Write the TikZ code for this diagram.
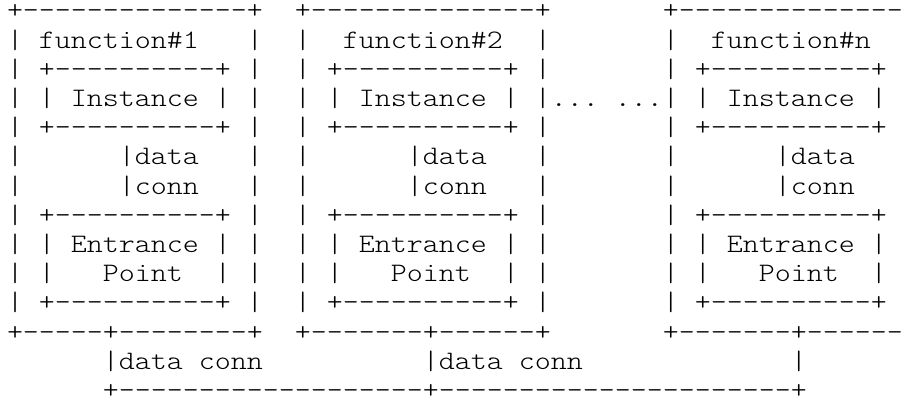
\documentclass[tikz,border=0pt]{standalone}
\usepackage{fontspec}
\newfontfamily\asciifont{lmmonolt10-regular.otf}[FakeStretch=1.1428]
\tikzset{
  asciirow/.style={anchor=base west, inner sep=0pt, outer sep=0pt, text=black,
    font=\asciifont\fontsize{26.667pt}{29.2pt}\selectfont\def~{\phantom{x}}}
}
\begin{document}
\begin{tikzpicture}[x=1pt,y=1pt]
\useasboundingbox (0,0) rectangle (909,401);
\clip (0,0) rectangle (909,401);
\node[asciirow] (r0)  at (7,{382-29.2*0})  {+--------------+~~+--------------+~~~~~~~+--------------};
\node[asciirow] (r1)  at (7,{382-29.2*1})  {|~function\#1~~~|~~|~~function\#2~~|~~~~~~~|~~function\#n};
\node[asciirow] (r2)  at (7,{382-29.2*2})  {|~+----------+~|~~|~+----------+~|~~~~~~~|~+----------+};
\node[asciirow] (r3)  at (7,{382-29.2*3})  {|~|~Instance~|~|~~|~|~Instance~|~|...~...|~|~Instance~|};
\node[asciirow] (r4)  at (7,{382-29.2*4})  {|~+----------+~|~~|~+----------+~|~~~~~~~|~+----------+};
\node[asciirow] (r5)  at (7,{382-29.2*5})  {|~~~~~~|data~~~|~~|~~~~~~|data~~~|~~~~~~~|~~~~~~|data};
\node[asciirow] (r6)  at (7,{382-29.2*6})  {|~~~~~~|conn~~~|~~|~~~~~~|conn~~~|~~~~~~~|~~~~~~|conn};
\node[asciirow] (r7)  at (7,{382-29.2*7})  {|~+----------+~|~~|~+----------+~|~~~~~~~|~+----------+};
\node[asciirow] (r8)  at (7,{382-29.2*8})  {|~|~Entrance~|~|~~|~|~Entrance~|~|~~~~~~~|~|~Entrance~|};
\node[asciirow] (r9)  at (7,{382-29.2*9})  {|~|~~~Point~~|~|~~|~|~~~Point~~|~|~~~~~~~|~|~~~Point~~|};
\node[asciirow] (r10) at (7,{382-29.2*10}) {|~+----------+~|~~|~+----------+~|~~~~~~~|~+----------+};
\node[asciirow] (r11) at (7,{382-29.2*11}) {+-----+--------+~~+-------+------+~~~~~~~+-------+------};
\node[asciirow] (r12) at (7,{382-29.2*12}) {~~~~~~|data~conn~~~~~~~~~~|data~conn~~~~~~~~~~~~~|};
\node[asciirow] (r13) at (7,{382-29.2*13}) {~~~~~~+-------------------+----------------------+};
\end{tikzpicture}
\end{document}
